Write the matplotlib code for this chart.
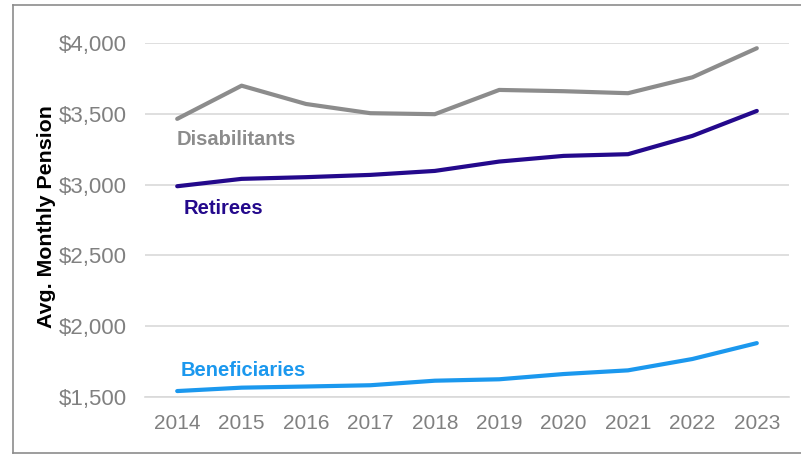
import matplotlib
matplotlib.use("Agg")
import matplotlib.pyplot as plt
from matplotlib.lines import Line2D
from matplotlib.ticker import FuncFormatter

plt.rcParams['font.family'] = ['Liberation Sans', 'DejaVu Sans']

years = ['2014', '2015', '2016', '2017', '2018', '2019', '2020', '2021', '2022', '2023']
disabilitants = [3463, 3697, 3568, 3503, 3496, 3667, 3658, 3644, 3756, 3961]
retirees = [2988, 3040, 3052, 3068, 3096, 3162, 3202, 3214, 3343, 3519]
beneficiaries = [1544, 1568, 1576, 1585, 1617, 1627, 1664, 1690, 1770, 1882]
y_ticks = [1500, 2000, 2500, 3000, 3500, 4000]

c_dis = '#8c8c8c'
c_ret = '#24098c'
c_ben = '#1b98ee'
c_tick = '#808080'

W, H = 801, 454
fig = plt.figure(figsize=(W / 100, H / 100), dpi=100)
ax = fig.add_axes([145 / W, (H - 397.3) / H, (789 - 145) / W, (397.3 - 42.7) / H])

x = range(len(years))
ax.plot(x, disabilitants, color=c_dis, lw=3, solid_capstyle='round', solid_joinstyle='round', zorder=3)
ax.plot(x, retirees, color=c_ret, lw=3, solid_capstyle='round', solid_joinstyle='round', zorder=3)
ax.plot(x, beneficiaries, color=c_ben, lw=3, solid_capstyle='round', solid_joinstyle='round', zorder=3)

ax.set_xlim(-0.5, len(years) - 0.5)
ax.set_ylim(y_ticks[0], y_ticks[-1])
ax.set_xticks(list(x))
ax.set_xticklabels(years)
ax.set_yticks(y_ticks)
ax.yaxis.set_major_formatter(FuncFormatter(lambda v, p: f'${v:,.0f}'))
ax.tick_params(axis='both', length=0, colors=c_tick)
ax.tick_params(axis='y', pad=13, labelsize=16)
ax.tick_params(axis='x', pad=12, labelsize=15)
ax.grid(axis='y', color='#d9d9d9', lw=1.2, zorder=0)
ax.set_axisbelow(True)
for s in ax.spines.values():
    s.set_visible(False)
ax.spines['bottom'].set_visible(True)
ax.spines['bottom'].set_color('#d9d9d9')
ax.spines['bottom'].set_linewidth(1.2)

ax.set_ylabel('Avg. Monthly Pension', fontsize=15.4, fontweight='bold', color='black')
ax.yaxis.set_label_coords(-0.138, 0.51)

def px(xp, yp):
    return xp / W, (H - yp) / H

fig.text(*px(177, 145), 'Disabilitants', fontsize=14.5, fontweight='bold', color=c_dis, va='baseline')
fig.text(*px(184, 214), 'Retirees', fontsize=14.5, fontweight='bold', color=c_ret, va='baseline')
fig.text(*px(181, 376), 'Beneficiaries', fontsize=14.5, fontweight='bold', color=c_ben, va='baseline')

# outer chart frame (left, top, bottom edges)
frame = dict(color='#8c8c8c', lw=1.2, transform=fig.transFigure)
fig.add_artist(Line2D([13 / W, 13 / W], [(H - 5) / H, (H - 452.5) / H], **frame))
fig.add_artist(Line2D([13 / W, 1.0], [(H - 5) / H, (H - 5) / H], **frame))
fig.add_artist(Line2D([13 / W, 1.0], [(H - 452.5) / H, (H - 452.5) / H], **frame))

fig.savefig('out.png', dpi=100)
